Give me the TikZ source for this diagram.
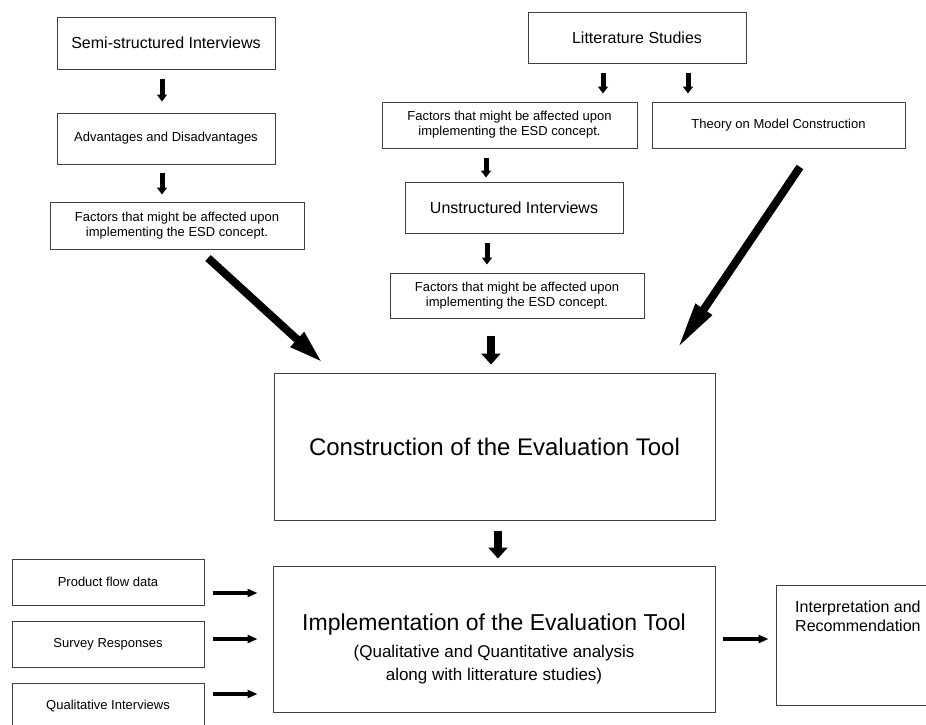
\documentclass[tikz,border=0pt]{standalone}
\usepackage{fontspec}
\setmainfont{Liberation Sans}
\usetikzlibrary{arrows.meta}
\begin{document}
\begin{tikzpicture}[x=1pt,y=-1pt,
  box/.style={draw=black!75, line width=1pt, rectangle, inner sep=0pt, align=center},
  small/.style={font=\fontsize{13}{15}\selectfont},
  med/.style={font=\fontsize{16}{19}\selectfont},
  big/.style={font=\fontsize{24}{28}\selectfont},
  sarr/.style={line width=5pt, -{Triangle[width=10pt,length=7pt]}},
  harr/.style={line width=4pt, -{Triangle[width=8pt,length=10pt]}},
  marr/.style={line width=8pt, -{Triangle[width=19pt,length=11pt]}},
  darrl/.style={line width=8pt, -{Triangle[width=18pt,length=35pt]}},
  darrr/.style={line width=8pt, -{Triangle[width=18pt,length=48pt]}},
]
\useasboundingbox (0,0) rectangle (926,724);
\fill[white] (0,0) rectangle (926,724);

% left column
\node[box,med,minimum width=218pt,minimum height=52pt] (semi) at (166,43) {Semi-structured Interviews};
\node[box,small,minimum width=218pt,minimum height=51pt] (adv) at (166,138.5) {Advantages and Disadvantages};
\node[box,small,minimum width=254pt,minimum height=47pt] (fac1) at (177,225.5) {Factors that might be affected upon\\implementing the ESD concept.};

% middle / right column
\node[box,med,minimum width=218pt,minimum height=51pt] (lit) at (637,37.5) {Litterature Studies};
\node[box,small,minimum width=255pt,minimum height=46pt] (fac2) at (509.5,125) {Factors that might be affected upon\\implementing the ESD concept.};
\node[box,small,minimum width=253pt,minimum height=46pt] (theory) at (778.5,125) {Theory on Model Construction};
\node[box,med,minimum width=218pt,minimum height=51pt] (unstr) at (514,207.5) {Unstructured Interviews};
\node[box,small,minimum width=254pt,minimum height=45pt] (fac3) at (517,295.5) {Factors that might be affected upon\\implementing the ESD concept.};

% central boxes
\node[box,big,minimum width=441pt,minimum height=147pt] (constr) at (494.5,446.5) {Construction of the Evaluation Tool};
\node[box,minimum width=442pt,minimum height=146pt] (impl) at (494,639) {};
\node[align=center,inner sep=0pt,font=\fontsize{17}{23}\selectfont] (implT) at (494,649)
  {{\fontsize{23}{28}\selectfont Implementation of the Evaluation Tool}\\[4pt]
   (Qualitative and Quantitative analysis\\
   along with litterature studies)};

% bottom left inputs
\node[box,small,minimum width=192pt,minimum height=46pt] (pf) at (108,582) {Product flow data};
\node[box,small,minimum width=192pt,minimum height=46pt] (sr) at (108,644) {Survey Responses};
\node[box,small,minimum width=192pt,minimum height=46pt] (qi) at (108,706) {Qualitative Interviews};

% output
\node[box,minimum width=190pt,minimum height=120pt] (interp) at (871,645) {};
\node[med,align=left,anchor=west,inner sep=0pt] (interpT) at (795,616) {Interpretation and\\Recommendation};

% small vertical arrows
\draw[sarr,shorten <=9pt,shorten >=11pt] ([xshift=-4pt]semi.south) -- ([xshift=-4pt]semi.south |- adv.north);
\draw[sarr,shorten <=8pt,shorten >=7pt] ([xshift=-4pt]adv.south) -- ([xshift=-4pt]adv.south |- fac1.north);
\draw[sarr,shorten <=9pt,shorten >=8pt] ([xshift=-34pt]lit.south) -- ([xshift=-34pt]lit.south |- fac2.north);
\draw[sarr,shorten <=9pt,shorten >=8pt] ([xshift=51pt]lit.south) -- ([xshift=51pt]lit.south |- theory.north);
\draw[sarr,shorten <=9pt,shorten >=4pt] ([xshift=-23.5pt]fac2.south) -- ([xshift=-23.5pt]fac2.south |- unstr.north);
\draw[sarr,shorten <=9pt,shorten >=8pt] ([xshift=-27pt]unstr.south) -- ([xshift=-27pt]unstr.south |- fac3.north);

% medium arrows
\draw[marr,shorten <=17pt,shorten >=8pt] ([xshift=-26pt]fac3.south) -- ([xshift=-26pt]fac3.south |- constr.north);
\draw[marr,shorten <=10pt,shorten >=7pt] ([xshift=3.5pt]constr.south) -- ([xshift=3.5pt]constr.south |- impl.north);

% diagonal arrows
\coordinate (dl1) at (208,258);
\coordinate (dl2) at (323,363);
\coordinate (dr1) at (800,167);
\coordinate (dr2) at (677,349);
\draw[darrl] (dl1) -- (dl2);
\draw[darrr] (dr1) -- (dr2);

% horizontal arrows
\draw[harr,shorten <=8pt,shorten >=15pt] ([yshift=-11pt]pf.east) -- ([yshift=-11pt]pf.east -| impl.west);
\draw[harr,shorten <=8pt,shorten >=15pt] ([yshift=5pt]sr.east) -- ([yshift=5pt]sr.east -| impl.west);
\draw[harr,shorten <=8pt,shorten >=15pt] ([yshift=12pt]qi.east) -- ([yshift=12pt]qi.east -| impl.west);
\draw[harr,shorten <=7pt,shorten >=7pt] (impl.east) -- (impl.east -| interp.west);
\end{tikzpicture}
\end{document}
